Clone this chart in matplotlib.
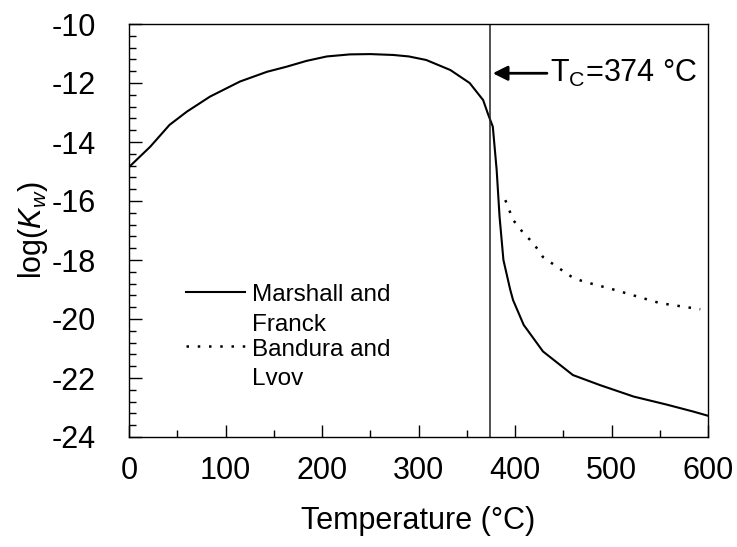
import numpy as np
import matplotlib
matplotlib.use("Agg")
import matplotlib.pyplot as plt
from matplotlib.lines import Line2D
from matplotlib.legend_handler import HandlerLine2D

plt.rcParams['font.family'] = 'Liberation Sans'
plt.rcParams['mathtext.fontset'] = 'custom'
plt.rcParams['mathtext.rm'] = 'Liberation Sans'
plt.rcParams['mathtext.it'] = 'Liberation Sans:italic'
plt.rcParams['axes.unicode_minus'] = False

# Marshall and Franck
marshall_T = [0, 22, 42, 60, 84, 115, 143, 163, 184, 205, 229, 250, 274, 290,
              308, 333, 353, 367, 372, 377, 381, 384, 388, 395, 398, 409, 429,
              460, 488, 523, 557, 585, 600]
marshall_logkw = [-14.85, -14.16, -13.42, -12.97, -12.46, -11.95, -11.62, -11.45,
                  -11.25, -11.1, -11.03, -11.02, -11.05, -11.1, -11.22, -11.56,
                  -12.0, -12.58, -13.05, -13.48, -14.95, -16.53, -18.0, -19.0,
                  -19.36, -20.2, -21.1, -21.9, -22.24, -22.63, -22.9, -23.14,
                  -23.28]

# Bandura and Lvov
bandura_T = [390, 398, 409, 419, 429, 443, 460, 471, 502, 550, 592]
bandura_logkw = [-15.97, -16.64, -17.1, -17.43, -17.9, -18.22, -18.6, -18.73,
                 -19.0, -19.46, -19.67]

t_crit = 374


class FirstLineHandler(HandlerLine2D):
    # put the legend key next to the first line of a two-line label
    def create_artists(self, legend, orig_handle, xdescent, ydescent, width,
                       height, fontsize, trans):
        return super().create_artists(legend, orig_handle, xdescent,
                                      ydescent - 1.5 * fontsize, width, height,
                                      fontsize, trans)


fig = plt.figure(figsize=(7.37, 5.47), dpi=100)
ax = fig.add_axes([129 / 737, 1 - 437 / 547, 579 / 737, 413 / 547])

l1, = ax.plot(marshall_T, marshall_logkw, color='black', lw=1.5,
              label='Marshall and\nFranck')
l2, = ax.plot(bandura_T, bandura_logkw, color='black', lw=1.8,
              linestyle=(0, (1, 3.5)), label='Bandura and\nLvov')
ax.axvline(t_crit, color='#222222', lw=1.1)

ax.annotate('T$_\\mathrm{C}$=374 °C', xy=(t_crit + 3, -11.67),
            xytext=(436, -11.67), fontsize=22, ha='left', va='center',
            arrowprops=dict(arrowstyle='-|>', color='black', lw=2,
                            mutation_scale=22, shrinkA=0, shrinkB=0))

ax.set_xlim(0, 600)
ax.set_ylim(-24, -10)
ax.set_xticks(np.arange(0, 601, 100))
ax.set_xticks(np.arange(0, 601, 50), minor=True)
ax.set_yticks(np.arange(-24, -9, 2))
ax.set_yticks(np.arange(-24, -9.9, 0.4), minor=True)
ax.tick_params(which='both', direction='in', labelsize=22, width=1)
ax.tick_params(which='major', length=9)
ax.tick_params(which='minor', length=5)
ax.tick_params(axis='x', pad=14)
ax.tick_params(axis='y', pad=24)
for s in ax.spines.values():
    s.set_linewidth(1)

ax.set_xlabel('Temperature (°C)', fontsize=22, labelpad=14)
ax.set_ylabel('log($K_w$)', fontsize=22, labelpad=1)

leg = ax.legend(handles=[l1, l2], loc='upper left',
                bbox_to_anchor=(0.099, 0.37), frameon=False, fontsize=17.5,
                handlelength=2.4, handletextpad=0.3, labelspacing=0.12,
                borderpad=0, borderaxespad=0,
                handler_map={Line2D: FirstLineHandler()})
for t in leg.get_texts():
    t.set_linespacing(1.45)

fig.savefig('out.png', dpi=100)
